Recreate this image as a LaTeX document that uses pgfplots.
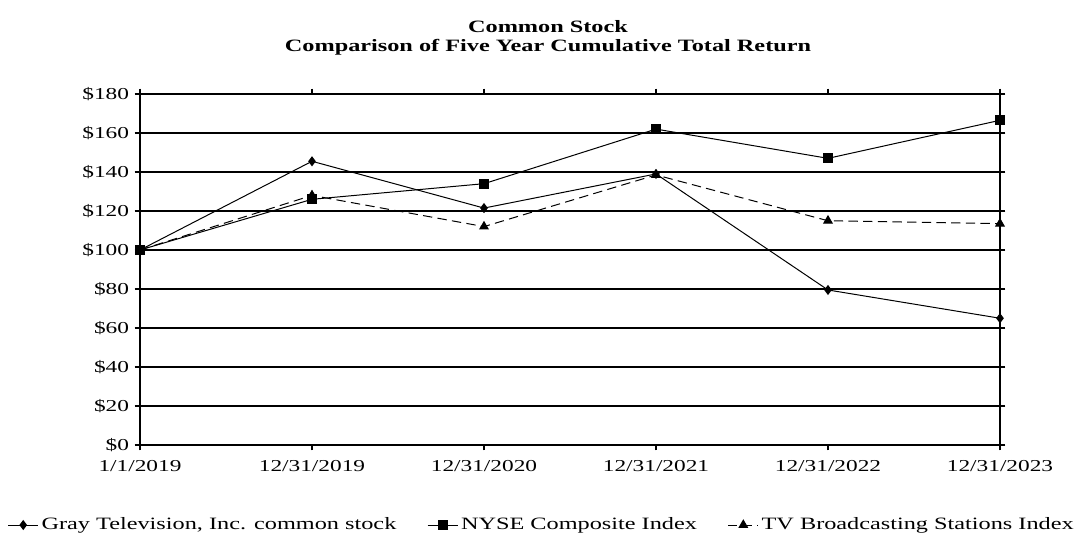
\documentclass[12pt,border=0pt]{standalone}
\usepackage{fontspec}
\setmainfont{Liberation Serif}[FakeStretch=1.4]
\usepackage{pgfplots}
\pgfplotsset{compat=1.18}
\begin{document}
\begin{tikzpicture}
\path[use as bounding box] (-105pt,-70.5pt) rectangle (707.25pt,333.75pt);
\begin{axis}[
  at={(0,0)}, anchor=south west,
  scale only axis, width=645pt, height=263.25pt,
  xmin=0, xmax=5, ymin=0, ymax=180,
  xtick={0,1,2,3,4,5},
  xticklabels={1/1/2019,12/31/2019,12/31/2020,12/31/2021,12/31/2022,12/31/2023},
  ytick={0,20,...,180},
  yticklabel={\$\pgfmathprintnumber{\tick}},
  /pgf/number format/assume math mode=true,
  ymajorgrids, grid style={black, line width=0.9pt},
  axis line style={black, line width=0.9pt},
  tick align=outside, major tick length=4pt,
  tick style={black, line width=0.8pt},
  ticklabel style={font=\fontsize{12.5}{14}\selectfont},
  xticklabel style={yshift=-3pt},
  legend style={draw=none, at={(0.4674,-0.228)}, anchor=center, font=\fontsize{13}{15}\selectfont,
    /tikz/every even column/.append style={column sep=21pt}},
  legend columns=3,
  legend image code/.code={\draw[mark repeat=2,mark phase=2] plot coordinates {(0cm,0cm)(0.4cm,0cm)(0.8cm,0cm)};},
]
\addplot[black, line width=0.75pt, mark=diamond*, mark size=3.2pt, mark options={solid}] coordinates {
 (0,100) (1,145.5) (2,121.5) (3,139) (4,79.5) (5,65)};
\addlegendentry{Gray Television, Inc. common stock}
\addplot[black, line width=0.75pt, mark=square*, mark size=3.3pt, mark options={solid}] coordinates {
 (0,100) (1,126) (2,134) (3,162) (4,147) (5,166.5)};
\addlegendentry{NYSE Composite Index}
\addplot[black, line width=0.75pt, dash pattern=on 7pt off 4pt, mark=triangle*, mark size=3.6pt, mark options={solid}] coordinates {
 (0,100) (1,128) (2,112) (3,138.5) (4,115) (5,113.5)};
\addlegendentry{TV Broadcasting Stations Index}
\end{axis}
\node[font=\fontsize{13}{15}\selectfont\bfseries] at (306pt,314pt) {Common Stock};
\node[font=\fontsize{13}{15}\selectfont\bfseries] at (306pt,298pt) {Comparison of Five Year Cumulative Total Return};
\end{tikzpicture}
\end{document}
